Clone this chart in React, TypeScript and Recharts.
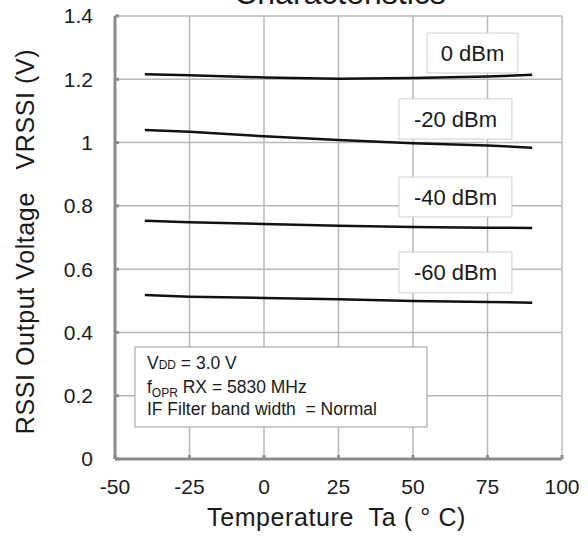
import { LineChart, Line, XAxis, YAxis, CartesianGrid, ReferenceArea, Customized } from "recharts";

const temps = [-40, -25, 0, 25, 50, 75, 90];
const dbm0 = [1.216, 1.213, 1.206, 1.202, 1.204, 1.209, 1.214];
const dbm20 = [1.04, 1.034, 1.02, 1.008, 0.998, 0.991, 0.984];
const dbm40 = [0.753, 0.748, 0.743, 0.737, 0.733, 0.731, 0.73];
const dbm60 = [0.518, 0.513, 0.509, 0.505, 0.499, 0.496, 0.494];

const xTicks = [-50, -25, 0, 25, 50, 75, 100];
const yTicks = [0, 0.2, 0.4, 0.6, 0.8, 1, 1.2, 1.4];

// label boxes: [text, x1, x2, y1, y2] in data units
const boxes: [string, number, number, number, number][] = [
  ["0 dBm", 54.7, 85.2, 1.22, 1.346],
  ["-20 dBm", 45.3, 83.2, 1.011, 1.138],
  ["-40 dBm", 45.3, 83.2, 0.765, 0.891],
  ["-60 dBm", 45.3, 83.2, 0.525, 0.654],
];

const data = temps.map((t, i) => ({
  t,
  a: dbm0[i],
  b: dbm20[i],
  c: dbm40[i],
  d: dbm60[i],
}));

const FONT = '"Liberation Sans", Arial, sans-serif';
const TXT = "#1a1a1a";
const AXIS = "#8c8c8c";

function Conditions({ viewBox }: any) {
  const { x, y } = viewBox;
  const lx = x + 12;
  return (
    <text fontFamily={FONT} fontSize={17.5} fill={TXT} style={{ whiteSpace: "pre" }}>
      <tspan x={lx} y={y + 22}>V</tspan>
      <tspan fontSize={12}>DD</tspan>
      <tspan> = 3.0 V</tspan>
      <tspan x={lx} y={y + 46}>f</tspan>
      <tspan fontSize={12} dy={4}>OPR</tspan>
      <tspan dy={-4}> RX = 5830 MHz</tspan>
      <tspan x={lx} y={y + 68}>IF Filter band width  = Normal</tspan>
    </text>
  );
}

export default function App() {
  return (
    <div style={{ position: "absolute", left: 0, top: 0, background: "#fff" }}>
      <LineChart width={588} height={541} data={data} margin={{ top: 16, right: 26, left: 0, bottom: 0 }}>
        <CartesianGrid stroke="#b8b8b8" strokeWidth={1.5} />
        <XAxis
          dataKey="t"
          type="number"
          domain={[-50, 100]}
          ticks={xTicks}
          height={82}
          axisLine={{ stroke: AXIS, strokeWidth: 3 }}
          tickLine={{ stroke: AXIS, strokeWidth: 3 }}
          tickSize={-4}
          tickMargin={24}
          tick={{ fontSize: 21, fill: TXT, fontFamily: FONT }}
          label={{
            content: ({ viewBox }: any) => (
              <text
                x={viewBox.x + viewBox.width / 2 - 2}
                y={viewBox.y + 58}
                textAnchor="middle"
                dominantBaseline="central"
                fontFamily={FONT}
                fontSize={25}
                letterSpacing={0.6}
                fill={TXT}
                style={{ whiteSpace: "pre" }}
              >
                Temperature  Ta ( ° C)
              </text>
            ),
          }}
        />
        <YAxis
          type="number"
          domain={[0, 1.4]}
          ticks={yTicks}
          width={115}
          axisLine={{ stroke: AXIS, strokeWidth: 3 }}
          tickLine={{ stroke: AXIS, strokeWidth: 3 }}
          tickSize={-4}
          tickMargin={26}
          tick={{ fontSize: 21, fill: TXT, fontFamily: FONT }}
          label={{
            content: ({ viewBox }: any) => {
              const cx = viewBox.x + 25;
              const cy = viewBox.y + viewBox.height / 2 + 4;
              return (
                <text
                  x={cx}
                  y={cy}
                  transform={`rotate(-90, ${cx}, ${cy})`}
                  textAnchor="middle"
                  dominantBaseline="central"
                  fontFamily={FONT}
                  fontSize={25}
                  letterSpacing={0.6}
                  fill={TXT}
                  style={{ whiteSpace: "pre" }}
                >
                  RSSI Output Voltage   VRSSI (V)
                </text>
              );
            },
          }}
        />
        <Line dataKey="a" stroke="#111" strokeWidth={2.5} dot={false} isAnimationActive={false} />
        <Line dataKey="b" stroke="#111" strokeWidth={2.5} dot={false} isAnimationActive={false} />
        <Line dataKey="c" stroke="#111" strokeWidth={2.5} dot={false} isAnimationActive={false} />
        <Line dataKey="d" stroke="#111" strokeWidth={2.5} dot={false} isAnimationActive={false} />
        {boxes.map(([label, x1, x2, y1, y2]) => (
          <ReferenceArea
            key={label}
            x1={x1}
            x2={x2}
            y1={y1}
            y2={y2}
            fill="#fff"
            fillOpacity={1}
            stroke="#cfcfcf"
            strokeWidth={1}
            label={{ value: label, position: "center", fontSize: 22, fill: TXT, fontFamily: FONT }}
          />
        ))}
        <ReferenceArea
          x1={-43.3}
          x2={54.7}
          y1={0.101}
          y2={0.354}
          fill="#fff"
          fillOpacity={1}
          stroke="#9a9a9a"
          strokeWidth={1}
          label={{ content: (p: any) => <Conditions viewBox={p.viewBox} /> }}
        />
        <Customized
          component={() => (
            <text x={340} y={4} textAnchor="middle" fontFamily={FONT} fontSize={32} fill={TXT}>
              Characteristics
            </text>
          )}
        />
      </LineChart>
    </div>
  );
}
